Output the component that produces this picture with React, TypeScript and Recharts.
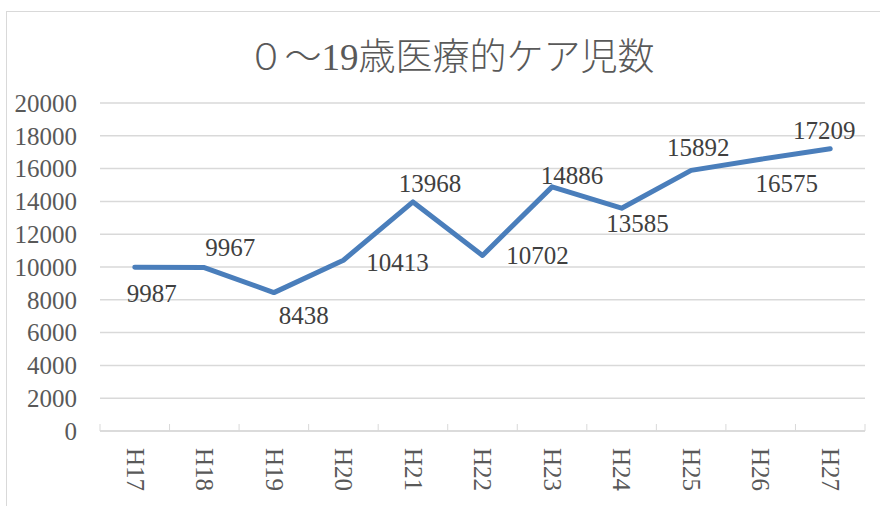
import { LineChart, Line, XAxis, YAxis, CartesianGrid } from "recharts";

const years = ["H17", "H18", "H19", "H20", "H21", "H22", "H23", "H24", "H25", "H26", "H27"];
const children = [9987, 9967, 8438, 10413, 13968, 10702, 14886, 13585, 15892, 16575, 17209];
const yTicks = [0, 2000, 4000, 6000, 8000, 10000, 12000, 14000, 16000, 18000, 20000];

// where each data label sits relative to its point (dx, dy), as in the original
const labelOffsets: [number, number][] = [
  [17, 26], [26, -20], [30, 23], [54, 2], [17, -19], [55, 0],
  [20, -12], [16, 15], [7, -23], [26, 24], [-6, -19],
];

const data = years.map((name, i) => ({ name, value: children[i] }));

const FONT = '"Liberation Serif", "Noto Sans CJK JP", serif';

const XTick = (props: any) => {
  const { x, y, payload, index, visibleTicksCount } = props;
  const half = payload.offset || 34.77;
  return (
    <g>
      <line x1={x - half} x2={x - half} y1={y} y2={y - 7} stroke="#d9d9d9" />
      {index === visibleTicksCount - 1 && (
        <line x1={x + half} x2={x + half} y1={y} y2={y - 7} stroke="#d9d9d9" />
      )}
      <text
        x={x}
        y={y + 17}
        dy="0.33em"
        transform={`rotate(90 ${x} ${y + 17})`}
        textAnchor="start"
        fill="#595959"
        fontSize={25}
        fontFamily={FONT}
      >
        {payload.value}
      </text>
    </g>
  );
};

const ValueLabel = (props: any) => {
  const { x, y, value, index } = props;
  const [dx, dy] = labelOffsets[index] || [0, -15];
  return (
    <text
      x={x + dx}
      y={y + dy}
      dy="0.35em"
      textAnchor="middle"
      fill="#404040"
      fontSize={25}
      fontFamily={FONT}
    >
      {value}
    </text>
  );
};

export default function App() {
  return (
    <div style={{ position: "absolute", left: 0, top: 0, width: 880, height: 506, background: "#fff", overflow: "hidden" }}>
      {/* chart frame */}
      <div
        style={{
          position: "absolute",
          left: 6,
          top: 11,
          width: 874,
          height: 495,
          borderLeft: "1px solid #d9d9d9",
          borderTop: "1px solid #d9d9d9",
          boxSizing: "border-box",
        }}
      />
      <div
        style={{
          position: "absolute",
          left: 0,
          top: 35,
          width: 902,
          textAlign: "center",
          fontFamily: FONT,
          fontSize: 37,
          fontWeight: 300,
          color: "#595959",
          lineHeight: "46px",
        }}
      >
        ０～19歳医療的ケア児数
      </div>
      <div style={{ position: "absolute", left: 0, top: 0 }}>
        <LineChart width={880} height={506} data={data} margin={{ top: 103, right: 15, left: 0, bottom: 0 }}>
          <CartesianGrid vertical={false} stroke="#d9d9d9" strokeWidth={1.5} />
          <XAxis
            dataKey="name"
            scale="band"
            height={75}
            axisLine={{ stroke: "#d9d9d9", strokeWidth: 1.5 }}
            tickLine={false}
            tickSize={0}
            tickMargin={0}
            interval={0}
            tick={<XTick />}
          />
          <YAxis
            width={100}
            domain={[0, 20000]}
            ticks={yTicks}
            axisLine={false}
            tickLine={false}
            tickSize={0}
            tickMargin={23}
            interval={0}
            tick={{ fill: "#595959", fontSize: 25, fontFamily: FONT }}
          />
          <Line
            type="linear"
            dataKey="value"
            stroke="#4a7ebb"
            strokeWidth={5}
            strokeLinecap="round"
            strokeLinejoin="round"
            dot={false}
            activeDot={false}
            isAnimationActive={false}
            label={<ValueLabel />}
          />
        </LineChart>
      </div>
    </div>
  );
}
